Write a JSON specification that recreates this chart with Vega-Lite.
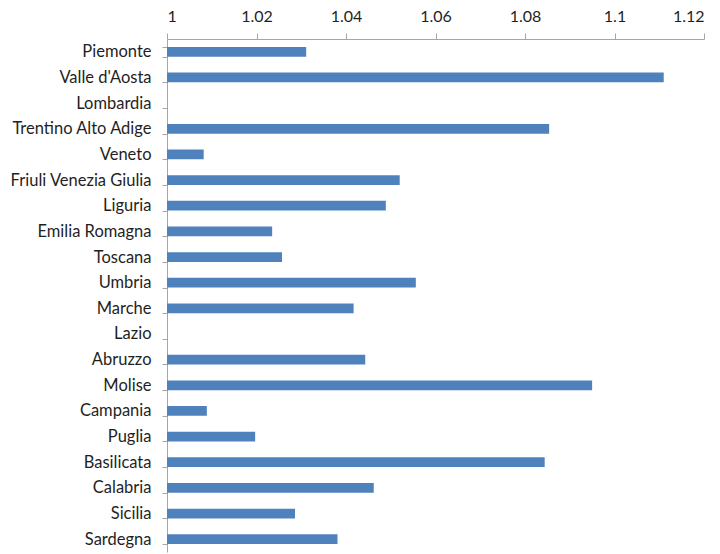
{
  "$schema": "https://vega.github.io/schema/vega-lite/v6.json",
  "autosize": "none",
  "width": 537,
  "height": 513,
  "padding": {"left": 167, "top": 39, "right": 16, "bottom": 2},
  "background": "white",
  "config": {"view": {"stroke": null}, "font": "Lato"},
  "data": {
    "values": [
      {"regione": "Piemonte", "valore": 1.0311},
      {"regione": "Valle d'Aosta", "valore": 1.111},
      {"regione": "Lombardia", "valore": 1.0},
      {"regione": "Trentino Alto Adige", "valore": 1.0854},
      {"regione": "Veneto", "valore": 1.0082},
      {"regione": "Friuli Venezia Giulia", "valore": 1.052},
      {"regione": "Liguria", "valore": 1.0489},
      {"regione": "Emilia Romagna", "valore": 1.0235},
      {"regione": "Toscana", "valore": 1.0257},
      {"regione": "Umbria", "valore": 1.0556},
      {"regione": "Marche", "valore": 1.0417},
      {"regione": "Lazio", "valore": 1.0},
      {"regione": "Abruzzo", "valore": 1.0443},
      {"regione": "Molise", "valore": 1.095},
      {"regione": "Campania", "valore": 1.0089},
      {"regione": "Puglia", "valore": 1.0197},
      {"regione": "Basilicata", "valore": 1.0844},
      {"regione": "Calabria", "valore": 1.0462},
      {"regione": "Sicilia", "valore": 1.0286},
      {"regione": "Sardegna", "valore": 1.0381}
    ]
  },
  "mark": {"type": "bar", "color": "#4f81bd", "stroke": null},
  "encoding": {
    "y": {
      "field": "regione",
      "type": "nominal",
      "sort": null,
      "scale": {"paddingInner": 0.62, "paddingOuter": 0.31},
      "axis": {
        "title": null,
        "tickBand": "extent",
        "tickSize": 5,
        "tickColor": "#a6a6a6",
        "domainColor": "#a6a6a6",
        "labelPadding": 11,
        "labelFontSize": 16.5,
        "labelColor": "#1f1f1f",
        "labelFont": "Lato"
      }
    },
    "x": {
      "field": "valore",
      "type": "quantitative",
      "scale": {"domain": [1, 1.12], "zero": false, "nice": false},
      "axis": {
        "orient": "top",
        "title": null,
        "values": [1, 1.02, 1.04, 1.06, 1.08, 1.1, 1.12],
        "format": ".2~f",
        "grid": false,
        "tickSize": 6,
        "tickColor": "#a6a6a6",
        "domainColor": "#a6a6a6",
        "labelPadding": 9,
        "labelFontSize": 16,
        "labelColor": "#1f1f1f",
        "labelFont": "Lato"
      }
    },
    "x2": {"datum": 1}
  }
}
